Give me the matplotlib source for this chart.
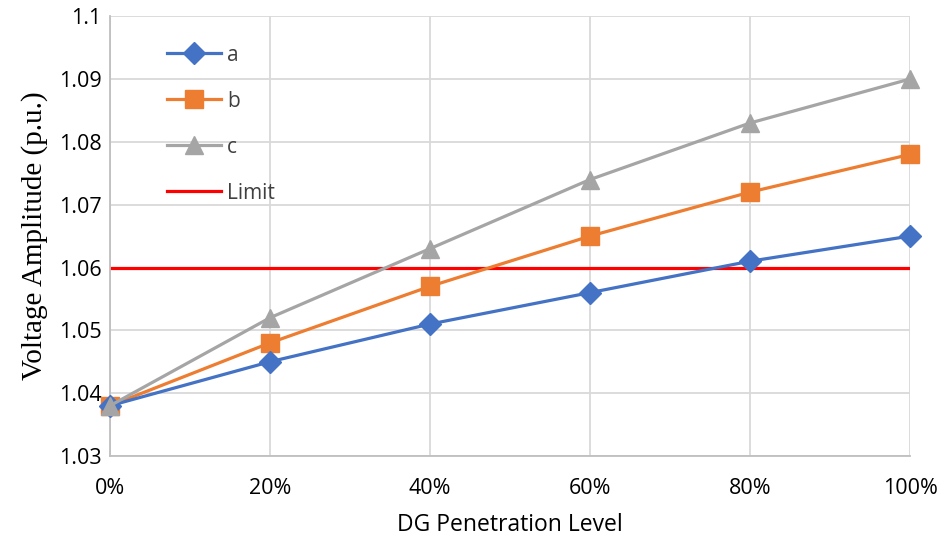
import matplotlib
matplotlib.use("Agg")
import matplotlib.pyplot as plt
from matplotlib.lines import Line2D

# Penetration levels (percent) and bus voltage amplitudes (p.u.)
levels = [0, 20, 40, 60, 80, 100]
tick_labels = ["0%", "20%", "40%", "60%", "80%", "100%"]
series_a = [1.038, 1.045, 1.051, 1.056, 1.061, 1.065]
series_b = [1.038, 1.048, 1.057, 1.065, 1.072, 1.078]
series_c = [1.038, 1.052, 1.063, 1.074, 1.083, 1.090]
limit_value = 1.06
y_ticks = [1.03, 1.04, 1.05, 1.06, 1.07, 1.08, 1.09, 1.1]
y_tick_labels = ["1.03", "1.04", "1.05", "1.06", "1.07", "1.08", "1.09", "1.1"]

sans = ["Open Sans", "DejaVu Sans"]
serif = ["Liberation Serif", "DejaVu Serif"]

fig = plt.figure(figsize=(9.44, 5.4), dpi=100)
ax = fig.add_axes([0.1165, 0.1556, 0.8475, 0.8144])

blue, orange, gray, red = "#4472C4", "#ED7D31", "#A5A5A5", "#FF0000"
lw = 2.3
styles = [
    (series_a, blue, "D", 11, 4),
    (series_b, orange, "s", 12.5, 3),
    (series_c, gray, "^", 13, 5),
]
for values, color, marker, size, z in styles:
    ax.plot(levels, values, color=color, lw=lw, marker=marker, ms=size,
            zorder=z, clip_on=False)
ax.plot(levels, [limit_value] * len(levels), color=red, lw=lw, zorder=2)

ax.set_xlim(levels[0], levels[-1])
ax.set_ylim(y_ticks[0], y_ticks[-1])
ax.set_xticks(levels)
ax.set_xticklabels(tick_labels)
ax.set_yticks(y_ticks)
ax.set_yticklabels(y_tick_labels)

ax.grid(True, color="#D9D9D9", lw=1.3, zorder=0)
ax.set_axisbelow(True)
for side in ("top", "right"):
    ax.spines[side].set_visible(False)
for side in ("left", "bottom"):
    ax.spines[side].set_color("#BFBFBF")
    ax.spines[side].set_linewidth(1.3)
ax.tick_params(length=0, labelsize=15.5, colors="#000000")
ax.tick_params(axis="y", pad=6)
ax.tick_params(axis="x", pad=16)
for lbl in ax.get_xticklabels() + ax.get_yticklabels():
    lbl.set_family(sans)

ax.set_xlabel("DG Penetration Level", family=sans, fontsize=16.5, labelpad=10)
ax.set_ylabel("Voltage Amplitude (p.u.)", family=serif, fontsize=21, labelpad=8)

handles = [
    Line2D([], [], color=blue, lw=lw, marker="D", ms=11),
    Line2D([], [], color=orange, lw=lw, marker="s", ms=12.5),
    Line2D([], [], color=gray, lw=lw, marker="^", ms=13),
    Line2D([], [], color=red, lw=lw),
]
leg = ax.legend(handles, ["a", "b", "c", "Limit"], loc="upper left",
                bbox_to_anchor=(0.071, 0.935), frameon=False,
                borderpad=0, borderaxespad=0,
                handlelength=2.6, labelspacing=1.2, handletextpad=0.3,
                prop={"family": sans, "size": 15})
for t in leg.get_texts():
    t.set_color("#404040")

fig.savefig("out.png", dpi=100)
